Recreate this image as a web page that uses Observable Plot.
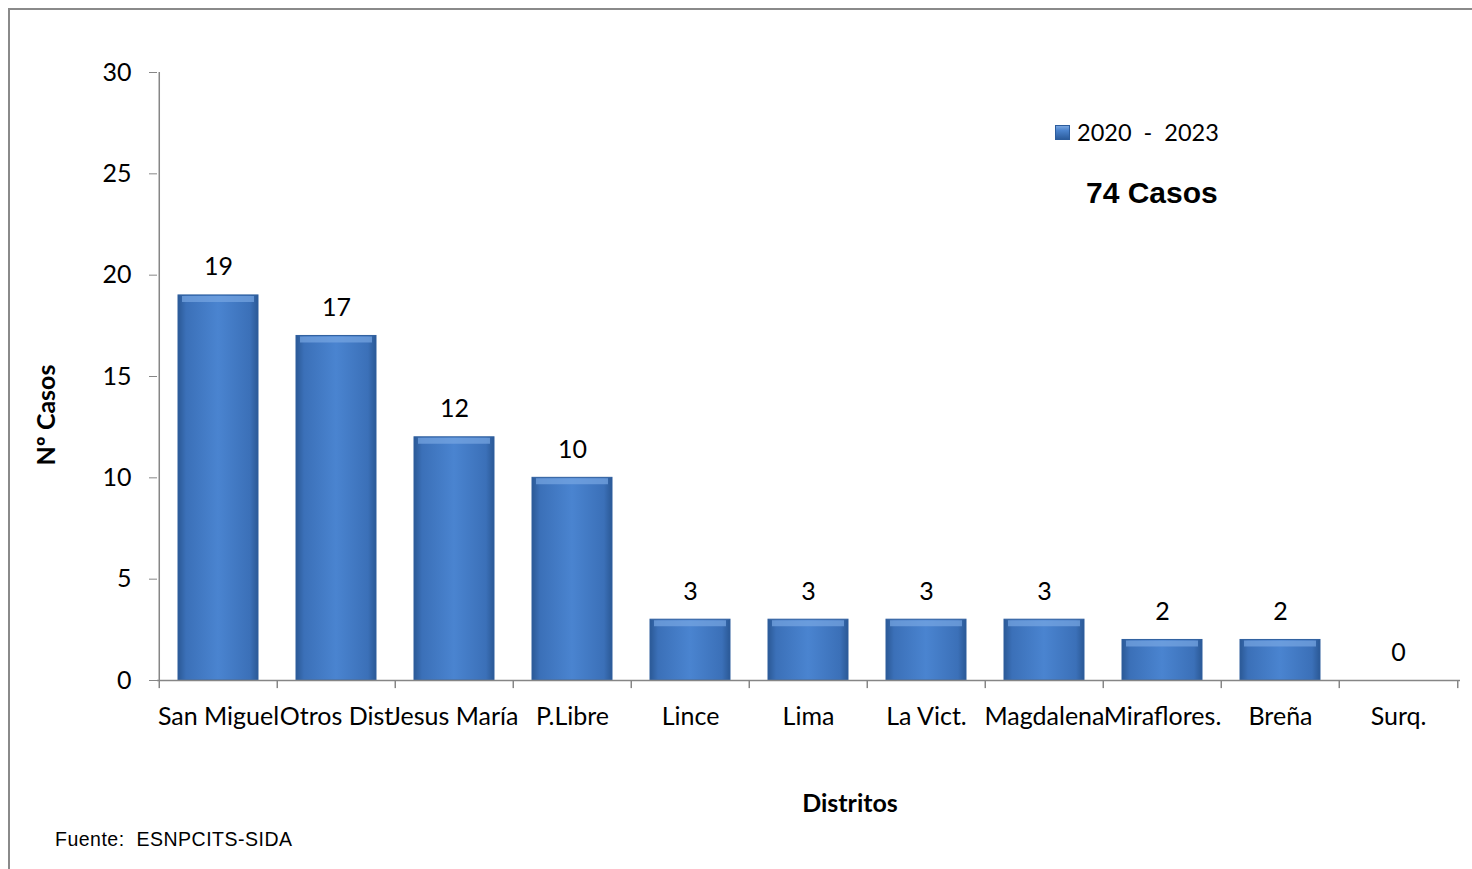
<!DOCTYPE html>
<html>
<head>
<meta charset="utf-8">
<script src="https://cdn.jsdelivr.net/npm/d3@7"></script>
<script src="https://cdn.jsdelivr.net/npm/@observablehq/plot@0.6"></script>
<style>
  html, body { margin: 0; padding: 0; background: #fff; }
  #wrap { position: relative; width: 1472px; height: 869px; overflow: hidden; }
  #frame { position: absolute; left: 8px; top: 8px; width: 1500px; height: 900px; border: 2px solid #8a8a8a; box-sizing: border-box; }
  #chart { position: absolute; left: 0; top: 0; }
  .legend { position: absolute; left: 1055px; top: 118px; font-family: Lato, sans-serif; font-size: 23.5px; display: flex; align-items: center; white-space: pre; }
  .swatch { width: 15px; height: 15px; margin-right: 7px; background: linear-gradient(to bottom, #7aa6df 0%, #4a82cc 35%, #2c5c9c 100%); border: 1px solid #2c5c9c; box-sizing: border-box; }
  .total { position: absolute; left: 1086px; top: 176px; font-family: "Liberation Sans", Arial, sans-serif; font-size: 30px; font-weight: bold; white-space: pre; }
  .note { position: absolute; left: 55px; top: 828px; font-family: "Liberation Sans", Arial, sans-serif; font-size: 19.5px; letter-spacing: 0.5px; white-space: pre; }
  .ylab { position: absolute; left: 45px; top: 415px; transform: translate(-50%, -50%) rotate(-90deg); font-family: Lato, sans-serif; font-size: 25px; font-weight: bold; white-space: pre; }
</style>
</head>
<body>
<div id="wrap">
  <div id="frame"></div>
  <div id="chart"></div>
  <div class="legend"><div class="swatch"></div><span id="legtext"></span></div>
  <div class="total" id="total"></div>
  <div class="ylab" id="ylab"></div>
  <div class="note" id="note"></div>
</div>
<script>
const districts = ["San Miguel", "Otros Dist", "Jesus María", "P.Libre", "Lince", "Lima", "La Vict.", "Magdalena", "Miraflores.", "Breña", "Surq."];
const cases = [19, 17, 12, 10, 3, 3, 3, 3, 2, 2, 0];
const yTicks = [0, 5, 10, 15, 20, 25, 30];
const seriesLabel = "2020  -  2023";
const totalLabel = "74 Casos";
const yLabel = "Nº Casos";
const xLabel = "Distritos";
const sourceNote = "Fuente:  ESNPCITS-SIDA";

const data = districts.map((d, i) => ({district: d, value: cases[i]}));

const W = 1472, H = 869;
const mL = 157, mR = 12, mT = 72, mB = 189;
const padInner = 0.32, padOuter = 0.16;
const step = (W - mL - mR) / (districts.length - padInner + 2 * padOuter);
const axisColor = "#868686";

const chart = Plot.plot({
  width: W, height: H,
  marginLeft: mL, marginRight: mR, marginTop: mT, marginBottom: mB,
  style: {fontFamily: "Lato, sans-serif", fontSize: "25px", color: "#000", background: "transparent", overflow: "visible"},
  x: {domain: districts, paddingInner: padInner, paddingOuter: padOuter, label: null},
  y: {domain: [0, 30], label: null},
  marks: [
    Plot.barY(data, {x: "district", y: "value", fill: "url(#barGrad)", stroke: "#2f5f9e", strokeWidth: 1}),
    Plot.tickY(data.filter(d => d.value > 0), {x: "district", y: "value", stroke: "#78a6e2", strokeOpacity: 0.7, strokeWidth: 6, dy: 3.5, insetLeft: 4, insetRight: 4}),
    Plot.ruleY([0], {stroke: axisColor, strokeWidth: 1.5}),
    Plot.ruleX([0], {x: () => districts[0], dx: -step / 2, y1: 0, y2: 30, stroke: axisColor, strokeWidth: 1.5}),
    Plot.ruleX(districts, {x: d => d, dx: -step / 2, y1: 0, y2: -0.4, stroke: axisColor, strokeWidth: 1.5}),
    Plot.ruleX([districts[districts.length - 1]], {x: d => d, dx: step / 2, y1: 0, y2: -0.4, stroke: axisColor, strokeWidth: 1.5}),
    Plot.axisY({ticks: yTicks, tickSize: 8, tickPadding: 18, stroke: axisColor, label: null, fontSize: 25}),
    Plot.axisX({tickSize: 0, tickPadding: 27, label: null, fontSize: 25}),
    Plot.text(data, {x: "district", y: "value", text: d => String(d.value), dy: -28, fontSize: 25}),
    Plot.text([xLabel], {frameAnchor: "bottom", dx: 41, dy: 131, fontWeight: "bold", fontSize: 25})
  ]
});

const svg = d3.select(chart);
const defs = svg.insert("defs", ":first-child");
const g = defs.append("linearGradient").attr("id", "barGrad").attr("x1", "0").attr("x2", "1").attr("y1", "0").attr("y2", "0");
[[0, "#2b5996"], [0.1, "#3b70b8"], [0.5, "#4a84d0"], [0.9, "#3b70b8"], [1, "#2b5996"]].forEach(([o, c]) =>
  g.append("stop").attr("offset", o).attr("stop-color", c));

document.getElementById("chart").appendChild(chart);
document.getElementById("legtext").textContent = seriesLabel;
document.getElementById("total").textContent = totalLabel;
document.getElementById("ylab").textContent = yLabel;
document.getElementById("note").textContent = sourceNote;
</script>
</body>
</html>
